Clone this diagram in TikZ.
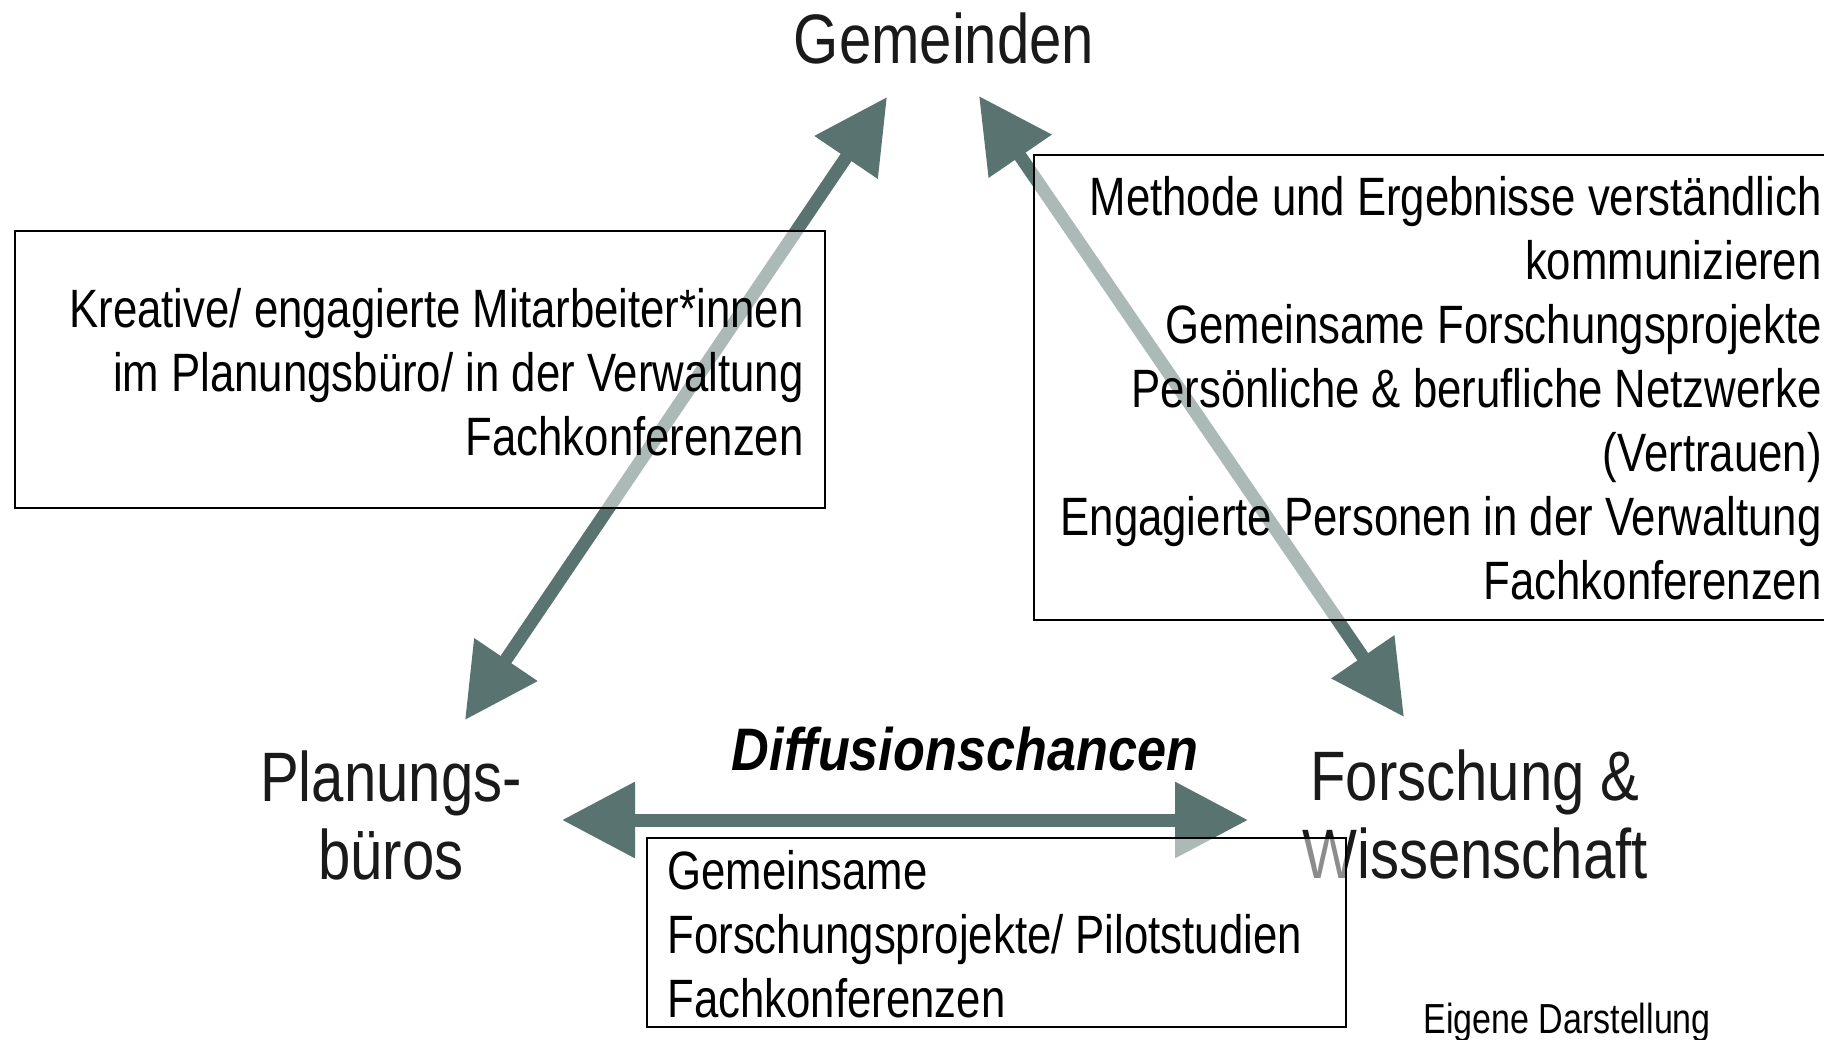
\documentclass[tikz,border=0pt]{standalone}
\usepackage{fontspec}
\setmainfont[FakeStretch=0.81]{Liberation Sans}
\newfontfamily\difffont[FakeStretch=0.87]{Liberation Sans}
\newfontfamily\akteurfont[FakeStretch=0.83]{Liberation Sans}
\usetikzlibrary{arrows.meta}

\definecolor{pfeil}{HTML}{587370}
\definecolor{schrift}{HTML}{1A1A1A}

\tikzset{
  pfeillinie/.style={pfeil, line width=6.5pt,
    {Triangle[length=36.5pt,width=36.5pt]}-{Triangle[length=36.5pt,width=36.5pt]}},
  akteur/.style={text=schrift, font=\akteurfont\fontsize{35}{39}\selectfont, align=center, inner sep=0pt},
  rahmen/.style={draw=black, line width=1pt, fill=white, fill opacity=0.5},
  boxtext/.style={font=\fontsize{27}{32}\selectfont, inner sep=0pt}
}

\begin{document}
\begin{tikzpicture}[x=0.5pt,y=-0.5pt]
        \path[fill=white, use as bounding box] (0,0) rectangle (1824,1039);

        % Pfeilenden
        \coordinate (gemL) at (887,97);
        \coordinate (gemR) at (979,96);
        \coordinate (plaO) at (465,720);
        \coordinate (plaR) at (562,820);
        \coordinate (forO) at (1404,717);
        \coordinate (forL) at (1248,820);

        % Pfeile
        \draw[pfeillinie] (plaO) -- (gemL);
        \draw[pfeillinie] (gemR) -- (forO);
        \draw[pfeillinie] (plaR) -- (forL);

        % Akteure
        \node[akteur, anchor=base] (gem) at (944,63) {Gemeinden};
        \node[akteur, anchor=north] (pla) at (391,750) {Planungs-\\büros};
        \node[akteur, anchor=north] (for) at (1475,749) {Forschung \&\\Wissenschaft};

        % Kaesten
        \draw[rahmen] (15,231) rectangle (825,508);
        \draw[rahmen] (1034,155) rectangle (1840,620);
        \draw[rahmen] (647,838) rectangle (1346,1027);

        % Texte in den Kaesten
        \node[boxtext, anchor=north east, align=right] (txtL) at (804,288)
            {Kreative/ engagierte Mitarbeiter*innen\\im Planungsbüro/ in der Verwaltung\\Fachkonferenzen};
        \node[boxtext, anchor=north east, align=right] (txtR) at (1822,176)
            {Methode und Ergebnisse verständlich\\kommunizieren\\Gemeinsame Forschungsprojekte\\Persönliche \& berufliche Netzwerke\\(Vertrauen)\\Engagierte Personen in der Verwaltung\\Fachkonferenzen};
        \node[boxtext, anchor=north west, align=left] (txtU) at (667,850)
            {Gemeinsame\\Forschungsprojekte/ Pilotstudien\\Fachkonferenzen};

        % Beschriftung
        \node[anchor=base, font={\difffont\fontsize{30}{36}\selectfont\bfseries\itshape}] (diff) at (965,770) {Diffusionschancen};
        \node[anchor=base west, inner sep=0pt, font=\fontsize{21}{25}\selectfont] (quelle) at (1423,1033) {Eigene Darstellung};
    \end{tikzpicture}
\end{document}
